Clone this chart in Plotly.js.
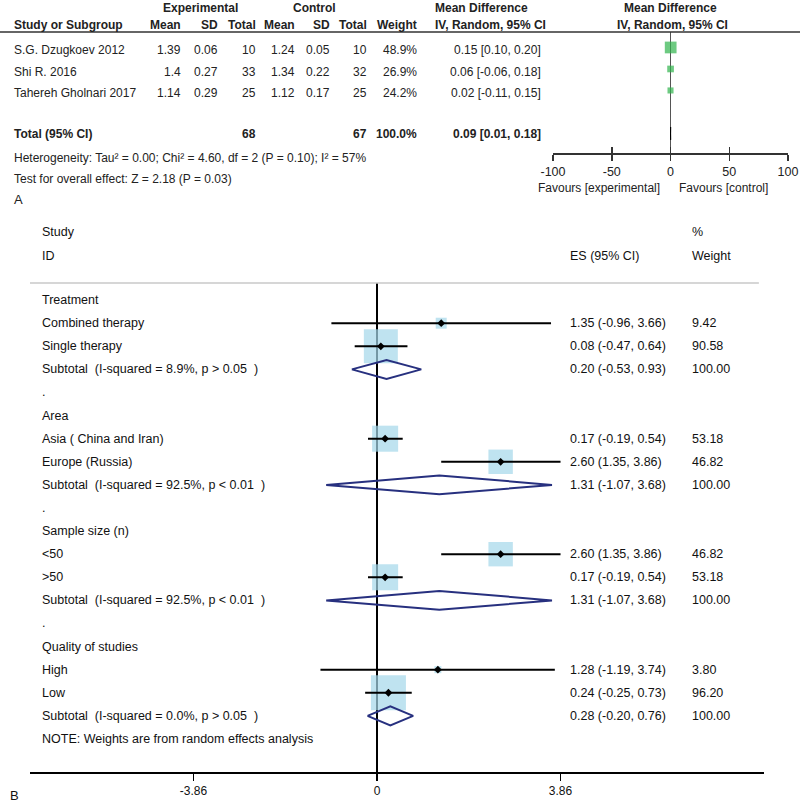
<!DOCTYPE html>
<html>
<head>
<meta charset="utf-8">
<script src="https://cdn.plot.ly/plotly-3.0.1.min.js"></script>
<style>
  html, body { margin: 0; padding: 0; background: #fff; }
  #chart { width: 800px; height: 805px; }
</style>
</head>
<body>
<div id="chart"></div>
<script>
// ---- panel A data (RevMan table) ----
const studiesA = ['S.G. Dzugkoev 2012', 'Shi R. 2016', 'Tahereh Gholnari 2017'];
const expMean = [1.39, 1.4, 1.14];
const expSD = [0.06, 0.27, 0.29];
const expN = [10, 33, 25];
const ctlMean = [1.24, 1.34, 1.12];
const ctlSD = [0.05, 0.22, 0.17];
const ctlN = [10, 32, 25];
const weightA = [48.9, 26.9, 24.2];
const mdA = [0.15, 0.06, 0.02];
const mdLoA = [0.10, -0.06, -0.11];
const mdHiA = [0.20, 0.18, 0.15];
const totalA = {expN: 68, ctlN: 67, weight: 100.0, md: 0.09, lo: 0.01, hi: 0.18};
const ticksA = [-100, -50, 0, 50, 100];

// ---- panel B data (subgroup forest plot) ----
const groupNames = ['Treatment', 'Area', 'Sample size (n)', 'Quality of studies'];
const studyLabels = ['Combined therapy', 'Single therapy', 'Asia ( China and Iran)', 'Europe (Russia)',
  '<50', '>50', 'High', 'Low'];
const studyES = [1.35, 0.08, 0.17, 2.60, 2.60, 0.17, 1.28, 0.24];
const studyLo = [-0.96, -0.47, -0.19, 1.35, 1.35, -0.19, -1.19, -0.25];
const studyHi = [3.66, 0.64, 0.54, 3.86, 3.86, 0.54, 3.74, 0.73];
const studyWt = [9.42, 90.58, 53.18, 46.82, 46.82, 53.18, 3.80, 96.20];
const subI2 = ['8.9%', '92.5%', '92.5%', '0.0%'];
const subP = ['p > 0.05', 'p < 0.01', 'p < 0.01', 'p > 0.05'];
const subES = [0.20, 1.31, 1.31, 0.28];
const subLo = [-0.53, -1.07, -1.07, -0.20];
const subHi = [0.93, 3.68, 3.68, 0.76];
const ticksB = [-3.86, 0, 3.86];

const W = 800, H = 805;
const px = x => x / W;
const py = y => 1 - y / H;
const FONT = '"Liberation Sans", Arial, sans-serif';
const sp = '\u00a0';

// row layout of panel B: each group = header, 2 studies, subtotal, dot
const studyRows = studyLabels.map((_, i) => Math.floor(i / 2) * 5 + 1 + (i % 2));
const subRows = groupNames.map((_, g) => g * 5 + 3);

const annotations = [];
function txt(text, x, y, opts) {
  annotations.push(Object.assign({
    text: text, x: x, y: y, xref: 'paper', yref: 'paper',
    xanchor: 'left', yanchor: 'middle', showarrow: false,
    font: {family: FONT, size: 12, color: '#222'}
  }, opts || {}));
}
const bold = s => '<b>' + s + '</b>';

// panel A headers
txt(bold('Experimental'), px(200), py(8), {xanchor: 'center'});
txt(bold('Control'), px(314), py(8), {xanchor: 'center'});
txt(bold('Mean Difference'), px(433), py(8));
txt(bold('Mean Difference'), px(670), py(8), {xanchor: 'center'});
const hdr2 = [['Study or Subgroup', 12, 'left'], ['Mean', 183, 'right'], ['SD', 220, 'right'],
  ['Total', 258, 'right'], ['Mean', 297, 'right'], ['SD', 332, 'right'], ['Total', 369, 'right'],
  ['Weight', 419, 'right'], ['IV, Random, 95% CI', 433, 'left'], ['IV, Random, 95% CI', 672, 'center']];
hdr2.forEach(h => txt(bold(h[0]), px(h[1]), py(25), {xanchor: h[2]}));

// panel A rows
const ci = (e, l, h) => e.toFixed(2) + ' [' + l.toFixed(2) + ', ' + h.toFixed(2) + ']';
studiesA.forEach((s, i) => {
  const o = a => Object.assign({yref: 'y', yshift: -3}, a || {});
  txt(s, px(12), i, o());
  txt(String(expMean[i]), px(183), i, o({xanchor: 'right'}));
  txt(String(expSD[i]), px(220), i, o({xanchor: 'right'}));
  txt(String(expN[i]), px(258), i, o({xanchor: 'right'}));
  txt(String(ctlMean[i]), px(297), i, o({xanchor: 'right'}));
  txt(String(ctlSD[i]), px(332), i, o({xanchor: 'right'}));
  txt(String(ctlN[i]), px(369), i, o({xanchor: 'right'}));
  txt(weightA[i].toFixed(1) + '%', px(419), i, o({xanchor: 'right'}));
  txt(ci(mdA[i], mdLoA[i], mdHiA[i]), px(543), i, o({xanchor: 'right'}));
});
const totRow = 4;
txt(bold('Total (95% CI)'), px(12), totRow, {yref: 'y', yshift: -1});
txt(bold(String(totalA.expN)), px(258), totRow, {yref: 'y', yshift: -1, xanchor: 'right'});
txt(bold(String(totalA.ctlN)), px(369), totRow, {yref: 'y', yshift: -1, xanchor: 'right'});
txt(bold(totalA.weight.toFixed(1) + '%'), px(419), totRow, {yref: 'y', yshift: -1, xanchor: 'right'});
txt(bold(ci(totalA.md, totalA.lo, totalA.hi)), px(543), totRow, {yref: 'y', yshift: -1, xanchor: 'right'});
txt('Heterogeneity: Tau² = 0.00; Chi² = 4.60, df = 2 (P = 0.10); I² = 57%', px(12), py(158));
txt('Test for overall effect: Z = 2.18 (P = 0.03)', px(12), py(179));
txt('Favours [experimental]', px(662), py(188), {xanchor: 'right'});
txt('Favours [control]', px(677), py(188));
txt('A', px(12), py(199), {font: {family: FONT, size: 13, color: '#222'}});

// panel B text
const fB = {family: FONT, size: 12.5, color: '#111'};
txt('Study', px(40), py(232), {font: fB});
txt('ID', px(40), py(256), {font: fB});
txt('ES (95% CI)', px(568), py(256), {font: fB});
txt('%', px(690), py(232), {font: fB});
txt('Weight', px(690), py(256), {font: fB});
const ciB = (e, l, h) => e.toFixed(2) + ' (' + l.toFixed(2) + ', ' + h.toFixed(2) + ')';
groupNames.forEach((g, k) => {
  txt(g, px(40), k * 5, {yref: 'y2', font: fB});
  if (k < groupNames.length - 1) txt('.', px(40), k * 5 + 4, {yref: 'y2', font: fB});
  const r = subRows[k];
  txt('Subtotal' + sp + sp + '(I-squared = ' + subI2[k] + ', ' + subP[k] + sp + sp + ')', px(40), r, {yref: 'y2', font: fB});
  txt(ciB(subES[k], subLo[k], subHi[k]), px(568), r, {yref: 'y2', font: fB});
  txt('100.00', px(690), r, {yref: 'y2', font: fB});
});
studyLabels.forEach((s, i) => {
  const r = studyRows[i];
  txt(s, px(40), r, {yref: 'y2', font: fB});
  txt(ciB(studyES[i], studyLo[i], studyHi[i]), px(568), r, {yref: 'y2', font: fB});
  txt(studyWt[i].toFixed(2), px(690), r, {yref: 'y2', font: fB});
});
txt('NOTE: Weights are from random effects analysis', px(40), 19, {yref: 'y2', font: fB});
txt('B', px(8), py(795), {font: {family: FONT, size: 13, color: '#111'}});

// subtotal diamonds
const dx = [], dy = [];
const half = 0.41;
subRows.forEach((r, k) => {
  dx.push(subLo[k], subES[k], subHi[k], subES[k], subLo[k], null);
  dy.push(r, r - half, r, r + half, r, null);
});
// total diamond panel A
const tdx = [totalA.lo, totalA.md, totalA.hi, totalA.md, totalA.lo];
const tdy = [totRow, totRow - 0.3, totRow, totRow + 0.3, totRow];

const traces = [
  {
    x: mdA, y: [0, 1, 2], xaxis: 'x', yaxis: 'y', type: 'scatter', mode: 'markers',
    marker: {symbol: 'square', color: '#2fb34b', size: weightA.map(w => 0.23 * w + 0.5), line: {width: 0}},
    error_x: {type: 'data', symmetric: false, array: mdHiA.map((h, i) => h - mdA[i]),
      arrayminus: mdA.map((e, i) => e - mdLoA[i]), color: '#2fb34b', thickness: 1, width: 0},
    hoverinfo: 'skip'
  },
  {
    x: tdx, y: tdy, xaxis: 'x', yaxis: 'y', type: 'scatter', mode: 'lines',
    fill: 'toself', fillcolor: '#000', line: {color: '#000', width: 1}, hoverinfo: 'skip'
  },
  // empty trace so the overlaid tick axis (inner half of the cross ticks) gets drawn
  {x: [], y: [], xaxis: 'x3', yaxis: 'y', type: 'scatter', mode: 'markers', hoverinfo: 'skip'},
  {
    x: studyES, y: studyRows, xaxis: 'x2', yaxis: 'y2', type: 'scatter', mode: 'markers',
    marker: {symbol: 'square', color: '#a4d7e9', size: studyWt.map(w => 3.57 * Math.sqrt(w)), line: {width: 0}},
    hoverinfo: 'skip'
  },
  {
    x: studyES, y: studyRows, xaxis: 'x2', yaxis: 'y2', type: 'scatter', mode: 'markers',
    marker: {symbol: 'diamond', color: '#000', size: 6},
    error_x: {type: 'data', symmetric: false, array: studyHi.map((h, i) => h - studyES[i]),
      arrayminus: studyES.map((e, i) => e - studyLo[i]), color: '#000', thickness: 2, width: 0},
    hoverinfo: 'skip'
  },
  {
    x: dx, y: dy, xaxis: 'x2', yaxis: 'y2', type: 'scatter', mode: 'lines',
    line: {color: '#27307f', width: 2}, connectgaps: false, hoverinfo: 'skip'
  }
];

const layout = {
  width: W, height: H,
  margin: {l: 0, r: 0, t: 0, b: 0},
  paper_bgcolor: '#fff', plot_bgcolor: 'rgba(0,0,0,0)',
  showlegend: false,
  font: {family: FONT, size: 12, color: '#222'},
  xaxis: {
    domain: [px(553), px(788)], range: [-100, 100], anchor: 'y',
    tickvals: ticksA, ticktext: ticksA.map(String), ticks: 'outside', ticklen: 6, tickwidth: 1.5, tickcolor: '#333',
    showline: true, linecolor: '#333', linewidth: 1.5, showgrid: false,
    zeroline: true, zerolinecolor: '#555', zerolinewidth: 1.5,
    tickfont: {family: FONT, size: 12.5, color: '#222'}, fixedrange: true
  },
  xaxis3: {
    overlaying: 'x', anchor: 'y', range: [-100, 100], tickvals: ticksA,
    ticks: 'inside', ticklen: 6, tickwidth: 1.5, tickcolor: '#333',
    showticklabels: false, showline: false, showgrid: false, zeroline: false
  },
  yaxis: {
    domain: [py(153), py(32)], range: [4.91, -0.72], anchor: 'x',
    visible: false, fixedrange: true
  },
  xaxis2: {
    domain: [px(30), px(764)], range: [-7.30, 8.14], anchor: 'y2',
    tickvals: ticksB, ticktext: ticksB.map(String), ticks: 'outside', ticklen: 7, tickwidth: 1.5, tickcolor: '#000',
    showline: true, linecolor: '#000', linewidth: 1.5, showgrid: false,
    zeroline: true, zerolinecolor: '#000', zerolinewidth: 1.5,
    tickfont: {family: FONT, size: 12, color: '#111'}, fixedrange: true
  },
  yaxis2: {
    domain: [py(772), py(283)], range: [20.43, -0.74], anchor: 'x2',
    visible: false, fixedrange: true
  },
  shapes: [
    {type: 'line', xref: 'paper', yref: 'paper', x0: 0, x1: 1, y0: py(32), y1: py(32),
      line: {color: '#333', width: 1.5}},
    {type: 'line', xref: 'x2 domain', yref: 'y2 domain', x0: 0, x1: 0.993, y0: 1, y1: 1,
      line: {color: '#c8c8c8', width: 1.5}}
  ],
  annotations: annotations
};

Plotly.newPlot('chart', traces, layout, {staticPlot: true, displayModeBar: false});
</script>
</body>
</html>
